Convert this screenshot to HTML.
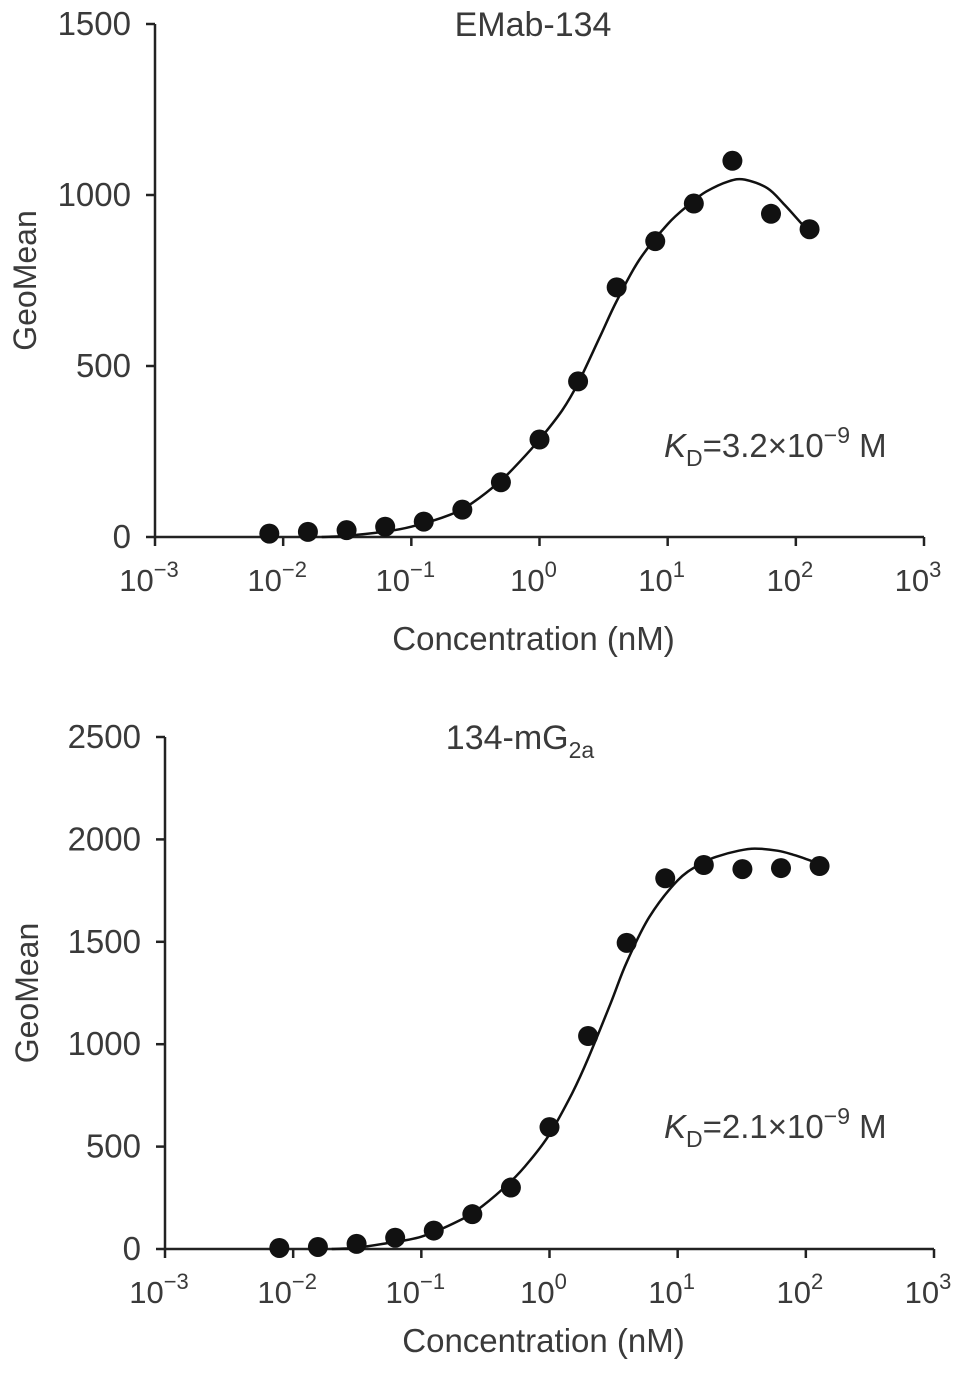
<!DOCTYPE html>
<html><head><meta charset="utf-8"><style>
html,body{margin:0;padding:0;background:#fff;}
svg{display:block;font-family:"Liberation Sans",sans-serif;}
text{fill:#3a3a3a;}
</style></head><body>
<svg id="svg" width="969" height="1373" viewBox="0 0 969 1373" xmlns="http://www.w3.org/2000/svg"></svg>
<script>
const concentrations=[0.0078,0.0156,0.03125,0.0625,0.125,0.25,0.5,1,2,4,8,16,32,64,128];
const emabValues=[10,15,20,30,45,80,160,285,455,730,865,975,1100,945,900];
const mg2aValues=[5,10,25,55,90,170,300,595,1040,1495,1810,1875,1855,1860,1870];
const emabFitX=[0.02,0.03,0.06,0.1,0.2,0.3,0.5,0.7,1,1.5,2,3,4,6,10,15,20,30,40,60,80,100,128];
const emabFitY=[0,3,15,30,65,100,165,220,285,370,450,590,690,810,915,975,1010,1040,1045,1020,975,935,890];
const mg2aFitX=[0.02,0.03,0.05,0.1,0.2,0.3,0.5,0.7,1,1.5,2,3,4,6,10,15,20,30,40,60,80,100,128];
const mg2aFitY=[0,5,25,60,140,210,330,430,560,760,930,1200,1400,1620,1800,1880,1915,1945,1955,1945,1925,1905,1880];
const xTickExp=[-3,-2,-1,0,1,2,3];
const emabYTicks=[0,500,1000,1500];
const mg2aYTicks=[0,500,1000,1500,2000,2500];
const NS="http://www.w3.org/2000/svg";
const svg=document.getElementById('svg');
function mk(tag,attrs,parent){const e=document.createElementNS(NS,tag);for(const k in attrs)e.setAttribute(k,attrs[k]);(parent||svg).appendChild(e);return e;}
function smooth(pts){
  let d='M'+pts[0][0].toFixed(1)+','+pts[0][1].toFixed(1);
  for(let i=0;i<pts.length-1;i++){
    const p0=pts[i-1]||pts[i],p1=pts[i],p2=pts[i+1],p3=pts[i+2]||p2;
    const c1=[p1[0]+(p2[0]-p0[0])/6,p1[1]+(p2[1]-p0[1])/6];
    const c2=[p2[0]-(p3[0]-p1[0])/6,p2[1]-(p3[1]-p1[1])/6];
    d+=`C${c1[0].toFixed(1)},${c1[1].toFixed(1)} ${c2[0].toFixed(1)},${c2[1].toFixed(1)} ${p2[0].toFixed(1)},${p2[1].toFixed(1)}`;
  }
  return d;
}
function panel(p){
  const g=mk('g',{});
  
  
  const xs=v=>p.x0+(Math.log10(v)+3)*(p.x1-p.x0)/6;
  const ys=v=>p.y0-v*(p.y0-p.yTop)/p.yMax;
  const ax=mk('path',{d:`M${p.x0},${p.yTop}V${p.y0}H${p.x1}`,stroke:'#222','stroke-width':2.5,fill:'none'},g);
  
  
  p.yTicks.forEach(t=>{
    const y=ys(t);
    mk('line',{x1:p.x0-9,x2:p.x0,y1:y,y2:y,stroke:'#222','stroke-width':2.5},g);
    const tx=mk('text',{x:p.x0-24,y:y+11,'text-anchor':'end','font-size':33},g);
    tx.textContent=t;
    
    
  });
  xTickExp.forEach(e=>{
    const x=xs(Math.pow(10,e));
    mk('line',{x1:x,x2:x,y1:p.y0,y2:p.y0+9,stroke:'#222','stroke-width':2.5},g);
    const tx=mk('text',{x:x-6,y:p.y0+54,'text-anchor':'middle','font-size':31},g);
    
    
    tx.appendChild(document.createTextNode('10'));
    const s=mk('tspan',{dy:-14,'font-size':22},tx);s.textContent=e<0?'\u2212'+(-e):String(e);
  });
  const pts=p.fitX.map((v,i)=>[xs(v),ys(p.fitY[i])]);
  const c=mk('path',{d:smooth(pts),stroke:'#111','stroke-width':2.5,fill:'none','stroke-linejoin':'round'},g);
  
  
  concentrations.forEach((v,i)=>{
    const pt=mk('circle',{cx:xs(v),cy:ys(p.vals[i]),r:10,fill:'#111'},g);
    
    
  });
  const xt=mk('text',{x:(p.x0+p.x1)/2-6,y:p.y0+p.xtOff,'text-anchor':'middle','font-size':33},g);
  xt.textContent='Concentration (nM)';
  
  
  const yt=mk('text',{x:0,y:0,'text-anchor':'middle','font-size':32,transform:`translate(${p.ytx},${(p.y0+p.yTop)/2}) rotate(-90)`},g);
  yt.textContent='GeoMean';
  
  
  const tt=mk('text',{x:p.titleX,y:p.titleY,'text-anchor':'middle','font-size':34},g);
  
  
  tt.appendChild(document.createTextNode(p.title));
  if(p.titleSub){const s=mk('tspan',{dy:9,'font-size':23},tt);s.textContent=p.titleSub;}
  const kd=mk('text',{x:664,y:p.kdY,'font-size':33},g);
  
  
  const k=mk('tspan',{'font-style':'italic'},kd);k.textContent='K';
  const s1=mk('tspan',{dy:9,'font-size':23},kd);s1.textContent='D';
  const s2=mk('tspan',{dy:-9},kd);s2.textContent='='+p.kd+'\u00d710';
  const s3=mk('tspan',{dy:-14,'font-size':23},kd);s3.textContent='\u22129';
  const s4=mk('tspan',{dy:14},kd);s4.textContent=' M';
}
panel({name:'emab-134-chart',x0:155,x1:924,y0:537,yTop:24,yMax:1500,yTicks:emabYTicks,vals:emabValues,fitX:emabFitX,fitY:emabFitY,ytx:36,title:'EMab-134',titleX:533,titleY:36,kdY:457,kd:'3.2',xtOff:113});
panel({name:'134-mg2a-chart',x0:165,x1:934,y0:1249,yTop:737,yMax:2500,yTicks:mg2aYTicks,vals:mg2aValues,fitX:mg2aFitX,fitY:mg2aFitY,ytx:38,title:'134-mG',titleSub:'2a',titleX:520,titleY:749,kdY:1138,kd:'2.1',xtOff:103});
</script>
</body></html>
